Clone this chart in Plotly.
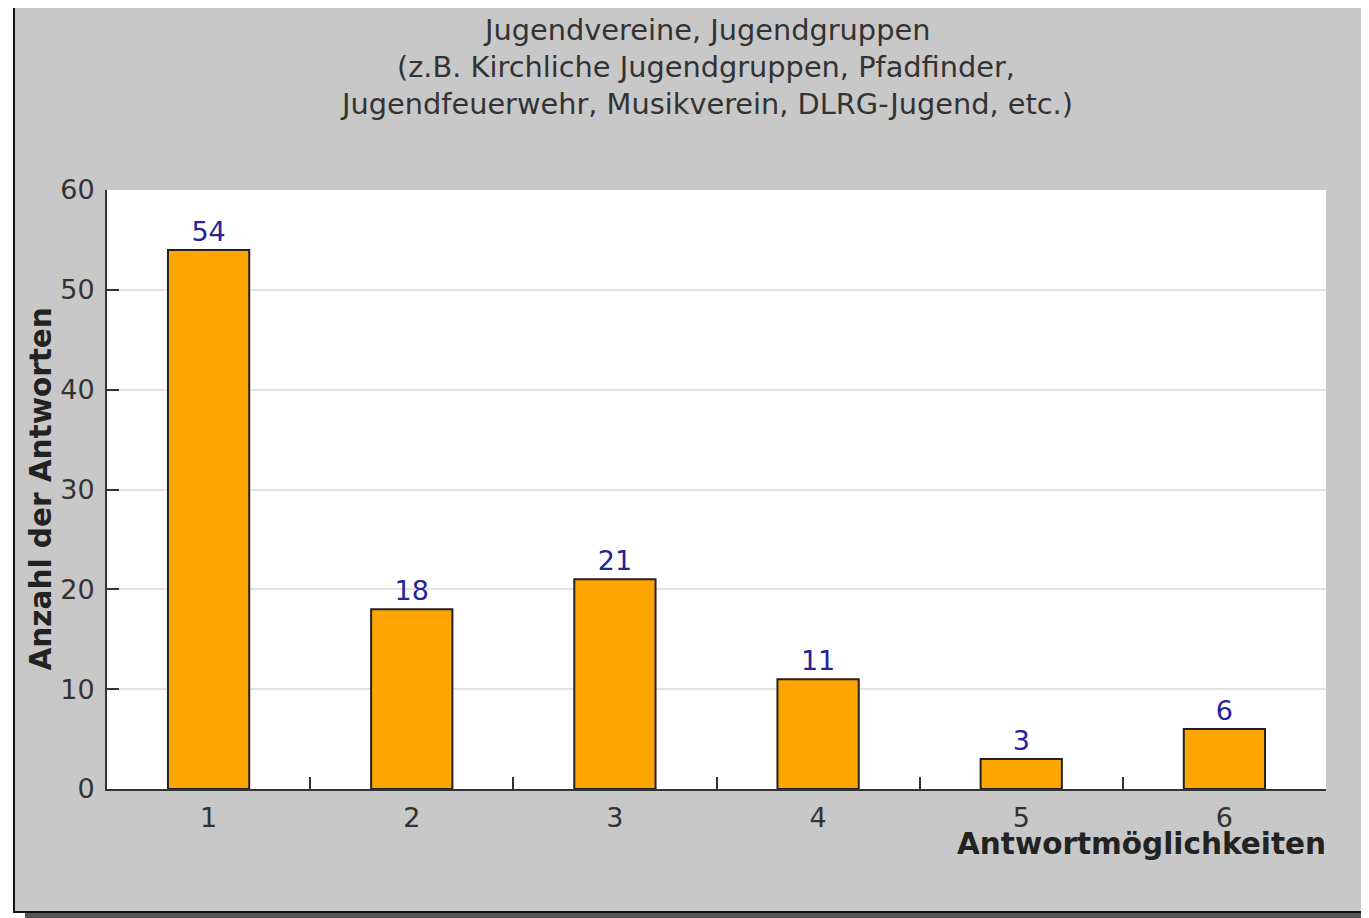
import plotly.graph_objects as go

# ---- data ----
categories = ["1", "2", "3", "4", "5", "6"]
values = [54, 18, 21, 11, 3, 6]
y_ticks = [0, 10, 20, 30, 40, 50, 60]
title_lines = [
    "Jugendvereine, Jugendgruppen",
    "(z.B. Kirchliche Jugendgruppen, Pfadfinder,",
    "Jugendfeuerwehr, Musikverein, DLRG-Jugend, etc.)",
]
x_title = "Antwortmöglichkeiten"
y_title = "Anzahl der Antworten"

# page geometry (browser viewport) and the 8px default body margin
PAGE_W, PAGE_H = 1369, 918
OFF = 8
W, H = PAGE_W - OFF, PAGE_H - OFF
L, R, T, B = 107, 1326, 190, 789  # plot area in page px
FONT = "DejaVu Sans"


def px(xp):
    return (xp - L) / (R - L)


def py(yp):
    return (B - yp) / (B - T)


fig = go.Figure()
fig.add_trace(go.Bar(
    x=categories,
    y=values,
    width=0.4,
    marker=dict(color="#FFA500", line=dict(color="#222222", width=2)),
    text=[str(v) for v in values],
    textposition="outside",
    textfont=dict(family=FONT, size=27, color="#24249a"),
    cliponaxis=False,
    hoverinfo="x+y",
))

shapes = [
    # white margins outside the framed panel
    dict(type="rect", xref="paper", yref="paper", x0=px(-20), x1=px(13), y0=py(-20), y1=py(PAGE_H + 20),
         fillcolor="white", line=dict(width=0), layer="above"),
    dict(type="rect", xref="paper", yref="paper", x0=px(-20), x1=px(PAGE_W + 20), y0=py(-20), y1=py(5),
         fillcolor="white", line=dict(width=0), layer="above"),
    dict(type="rect", xref="paper", yref="paper", x0=px(-20), x1=px(PAGE_W + 20), y0=py(913), y1=py(PAGE_H + 20),
         fillcolor="white", line=dict(width=0), layer="above"),
    # shadow
    dict(type="rect", xref="paper", yref="paper", x0=px(25), x1=px(PAGE_W + 20), y0=py(913), y1=py(PAGE_H + 20),
         fillcolor="#555555", line=dict(width=0), layer="above"),
    # frame border
    dict(type="rect", xref="paper", yref="paper", x0=px(14), x1=px(PAGE_W + 20), y0=py(6), y1=py(912),
         fillcolor="rgba(0,0,0,0)", line=dict(color="#111111", width=2), layer="above"),
]

annotations = []
for line, yc in zip(title_lines, [30, 67, 104]):
    annotations.append(dict(
        text=line, xref="paper", yref="paper", x=px(706), y=py(yc),
        xanchor="center", yanchor="middle", showarrow=False,
        font=dict(family=FONT, size=28.8, color="#333333")))

annotations += [
    dict(text=y_title, xref="paper", yref="paper", x=px(40), y=py((T + B) / 2),
         xanchor="center", yanchor="middle", textangle=-90, showarrow=False,
         font=dict(family=FONT, size=29.5, color="#222222", weight="bold")),
    dict(text=x_title, xref="paper", yref="paper", x=px(1328), y=py(844),
         xanchor="right", yanchor="middle", showarrow=False,
         font=dict(family=FONT, size=29.5, color="#222222", weight="bold")),
]

fig.update_layout(
    width=W, height=H,
    margin=dict(l=L - OFF, r=PAGE_W - R, t=T - OFF, b=PAGE_H - B, pad=0),
    paper_bgcolor="#c8c8c8",
    plot_bgcolor="white",
    showlegend=False,
    bargap=0.6,
    font=dict(family=FONT, size=27, color="#333333"),
    shapes=shapes,
    annotations=annotations,
    xaxis=dict(
        type="category",
        tickson="boundaries",
        ticks="inside", ticklen=12, tickwidth=2, tickcolor="#333333",
        showline=True, linecolor="#333333", linewidth=2,
        showgrid=False, zeroline=False,
        tickfont=dict(family=FONT, size=27, color="#333333"),
        ticklabelstandoff=4,
    ),
    yaxis=dict(
        range=[0, 60],
        tickvals=y_ticks,
        ticks="inside", ticklen=12, tickwidth=2, tickcolor="#333333",
        showline=True, linecolor="#333333", linewidth=2,
        showgrid=True, gridcolor="#e3e3e3", gridwidth=2,
        zeroline=False,
        tickfont=dict(family=FONT, size=27, color="#333333"),
        ticklabelstandoff=5,
    ),
)

fig.write_html("out.html")
